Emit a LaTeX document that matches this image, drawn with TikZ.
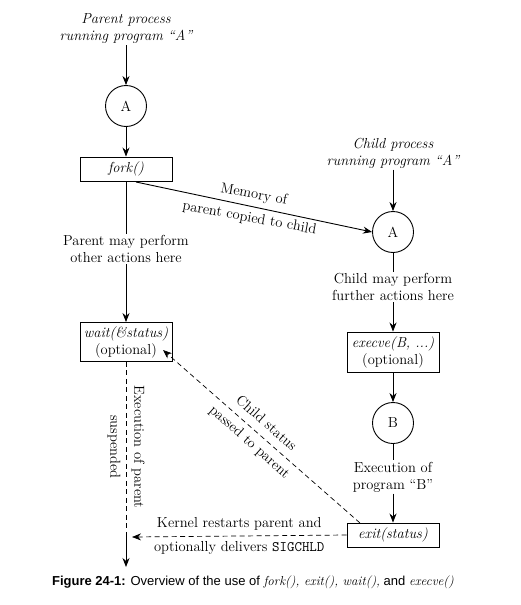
\documentclass[tikz,border=0pt]{standalone}
\usepackage{fontspec}
\newfontfamily\capfont{Liberation Sans}
\usetikzlibrary{arrows.meta}

\begin{document}
\begin{tikzpicture}[
  x=1pt, y=-1pt, line width=0.9pt,
  every node/.style={font=\fontsize{14.5}{17}\selectfont, align=center},
  proc/.style={draw, circle, minimum size=41pt, inner sep=0pt},
  call/.style={draw, rectangle, minimum width=92pt, minimum height=24pt, inner sep=1pt},
  note/.style={inner sep=1pt},
  flow/.style={draw, -{Stealth[length=9pt,width=7pt]}},
  dashline/.style={line width=0.7pt, dash pattern=on 5pt off 3.5pt},
  signal/.style={flow, dashline}
  ]
  \useasboundingbox (0,0) rectangle (521,605);

  % parent side
  \node[note] (ptop) at (126,29) {\itshape Parent process\\\itshape running program ``A''};
  \node[proc] (pa) at (126,106) {A};
  \node[call] (fork) at (126,169) {\itshape fork()};
  \node[note] (pmay) at (126,249) {Parent may perform\\other actions here};
  \node[call, minimum height=39pt] (wait) at (126,342) {\itshape wait(\&status)\\(optional)};
  \coordinate (pend) at (126,567);
  \coordinate (pjoin) at (126,537);

  % child side
  \node[note] (ctop) at (393,153) {\itshape Child process\\\itshape running program ``A''};
  \node[proc] (ca) at (393,232) {A};
  \node[note] (cmay) at (393,287) {Child may perform\\further actions here};
  \node[call, minimum height=40pt] (execve) at (393,352) {\itshape execve(B, ...)\\(optional)};
  \node[proc] (cb) at (393,423) {B};
  \node[note] (cexec) at (393,477) {Execution of\\program ``B''};
  \node[call] (exit) at (393,535) {\itshape exit(status)};

  % connectors
  \draw[flow] (ptop) -- (pa);
  \draw[flow] (pa) -- (fork);
  \draw (fork) -- (pmay);
  \draw[flow] (pmay) -- (wait);
  \draw[dashline] (wait) -- (pjoin);
  \draw[flow] (pjoin) -- (pend);

  \draw[flow] (ctop) -- (ca);
  \draw (ca) -- (cmay);
  \draw[flow] (cmay) -- (execve);
  \draw[flow] (execve) -- (cb);
  \draw (cb) -- (cexec);
  \draw[flow] (cexec) -- (exit);

  \coordinate (fstart) at (136,182);
  \draw[flow] (fstart) -- (ca.west)
    node[pos=0.49, rotate=-10.4, note] (mem) {Memory of\\[7pt]parent copied to child};

  \coordinate (xstart) at (360,523);
  \coordinate (wtip) at (163,350);
  \draw[signal] (xstart) -- (wtip)
    node[pos=0.52, rotate=-41.6, note] (cst) {Child status\\[8pt]passed to parent};

  \draw[signal] (exit.west) -- ([xshift=6pt]pjoin)
    node[midway, note] (kern) {Kernel restarts parent and\\[7pt]optionally delivers \texttt{SIGCHLD}};

  \node[note, rotate=-90] (susp) at (126,447) {Execution of parent\\[7pt]suspended};

  % caption
  \node[font=\capfont\fontsize{13}{16}\selectfont] (cap) at (253,582)
    {\textbf{Figure 24-1:} Overview of the use of {\rmfamily\itshape fork(), exit(), wait(),} and {\rmfamily\itshape execve()}};
\end{tikzpicture}
\end{document}
